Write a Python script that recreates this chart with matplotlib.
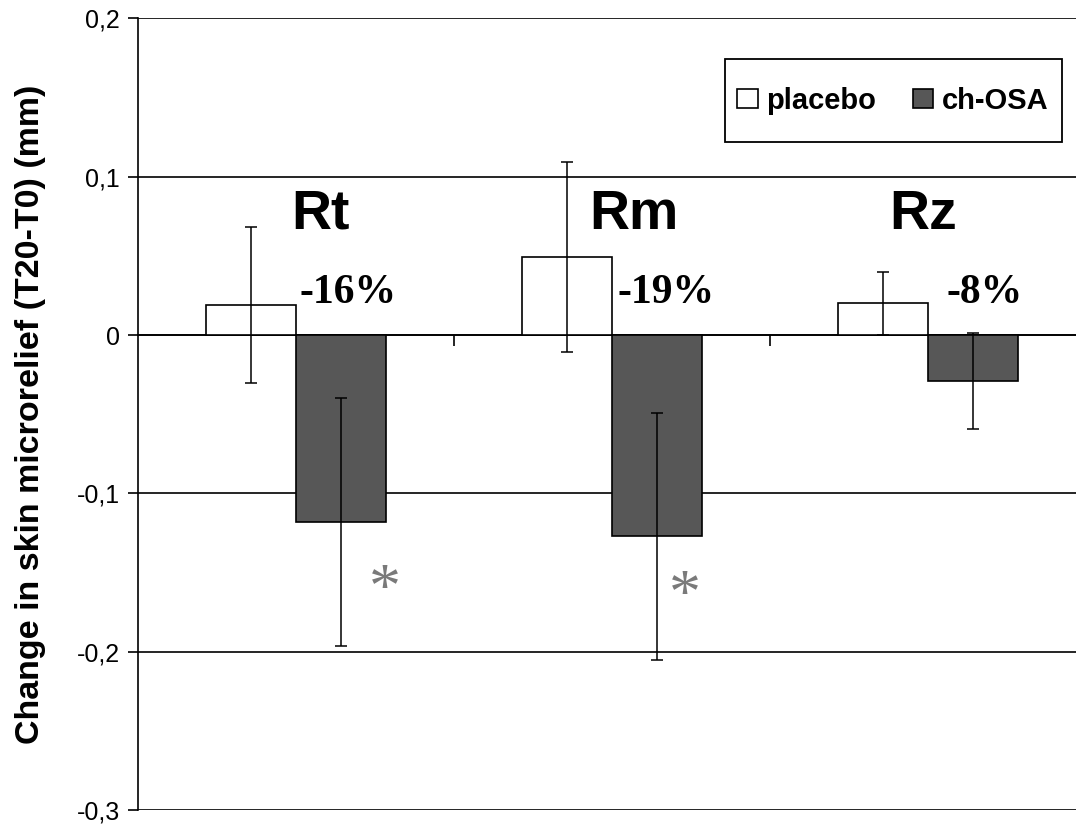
import numpy as np
import matplotlib
matplotlib.use("Agg")
import matplotlib.pyplot as plt
from matplotlib.patches import Rectangle
from matplotlib.ticker import FuncFormatter

# values (mm)
params = ["Rt", "Rm", "Rz"]
placebo = [0.019, 0.049, 0.020]
placebo_err = [0.049, 0.060, 0.020]
ch_osa = [-0.118, -0.127, -0.029]
ch_osa_err = [0.078, 0.078, 0.030]
change_labels = ["-16%", "-19%", "-8%"]
significant = [True, True, False]

SANS = "Liberation Sans"
SERIF = "Liberation Serif"

fig = plt.figure(figsize=(10.76, 8.31), dpi=100)
ax = fig.add_axes([0.1283, 0.025, 0.881, 0.953])

x = np.arange(len(params))
w = 0.285

ax.bar(x - w / 2, placebo, w, color="white", edgecolor="black",
       linewidth=1.2, label="placebo", zorder=3)
ax.bar(x + w / 2, ch_osa, w, color="#575757", edgecolor="black",
       linewidth=1.2, label="ch-OSA", zorder=3)
ax.errorbar(x - w / 2, placebo, yerr=placebo_err, fmt="none",
            ecolor="black", elinewidth=1.1, capsize=4, capthick=1.1, zorder=4)
ax.errorbar(x + w / 2, ch_osa, yerr=ch_osa_err, fmt="none",
            ecolor="black", elinewidth=1.1, capsize=4, capthick=1.1, zorder=4)

ax.set_xlim(-0.5, 2.5)
ax.set_ylim(-0.3, 0.2)
ax.set_yticks([0.2, 0.1, 0, -0.1, -0.2, -0.3])
ax.yaxis.set_major_formatter(
    FuncFormatter(lambda v, p: "0" if abs(v) < 1e-9 else f"{v:.1f}".replace(".", ",")))
ax.grid(axis="y", color="black", linewidth=1.2, zorder=0)
ax.set_axisbelow(True)

# category axis sits on zero with short ticks between the groups
ax.spines["bottom"].set_position(("data", 0))
ax.spines["bottom"].set_linewidth(1.2)
ax.spines["right"].set_visible(False)
ax.spines["top"].set_visible(False)
ax.spines["left"].set_linewidth(1.2)
ax.set_xticks([0.5, 1.5])
ax.set_xticklabels([])
ax.tick_params(axis="x", direction="out", length=8, width=1.2)
ax.tick_params(axis="y", direction="out", length=7, width=1.2,
               labelsize=18, pad=6)
for lab in ax.get_yticklabels():
    lab.set_family(SANS)

ax.set_ylabel("Change in skin microrelief (T20-T0) (mm)", fontsize=24.5,
              fontweight="bold", family=SANS, labelpad=22)

# parameter names, percent change and significance marks
name_dx = [0.076, 0.07, -0.016]
pct_dx = [0.01, 0.016, 0.057]
star_dx = [0.28, 0.23, 0.0]
star_y = [-0.162, -0.166, 0.0]
for i, name in enumerate(params):
    ax.text(x[i] + name_dx[i], 0.067, name, fontsize=40, fontweight="bold",
            family=SANS, ha="center", va="baseline")
    ax.text(x[i] + pct_dx[i], 0.02, change_labels[i], fontsize=30,
            fontweight="bold", family=SERIF, ha="left", va="baseline")
    if significant[i]:
        ax.text(x[i] + star_dx[i], star_y[i], "*", fontsize=46,
                family=SERIF, color="#7a7a7a", ha="center", va="center")

leg = ax.legend(loc="center", bbox_to_anchor=(893 / 1076, 1 - 101 / 831),
                bbox_transform=fig.transFigure, ncol=2, frameon=False,
                handlelength=0.7, handleheight=0.6, handletextpad=0.3,
                columnspacing=1.25, borderpad=0.3,
                prop={"family": SANS, "weight": "bold", "size": 21})
for h in leg.legend_handles:
    h.set_linewidth(1.2)

# legend frame
fig.patches.append(Rectangle((725 / 1076, 1 - 142 / 831), 337 / 1076, 83 / 831,
                             transform=fig.transFigure, fill=False,
                             edgecolor="black", linewidth=1.3, zorder=5))

fig.savefig("out.png", dpi=100)
